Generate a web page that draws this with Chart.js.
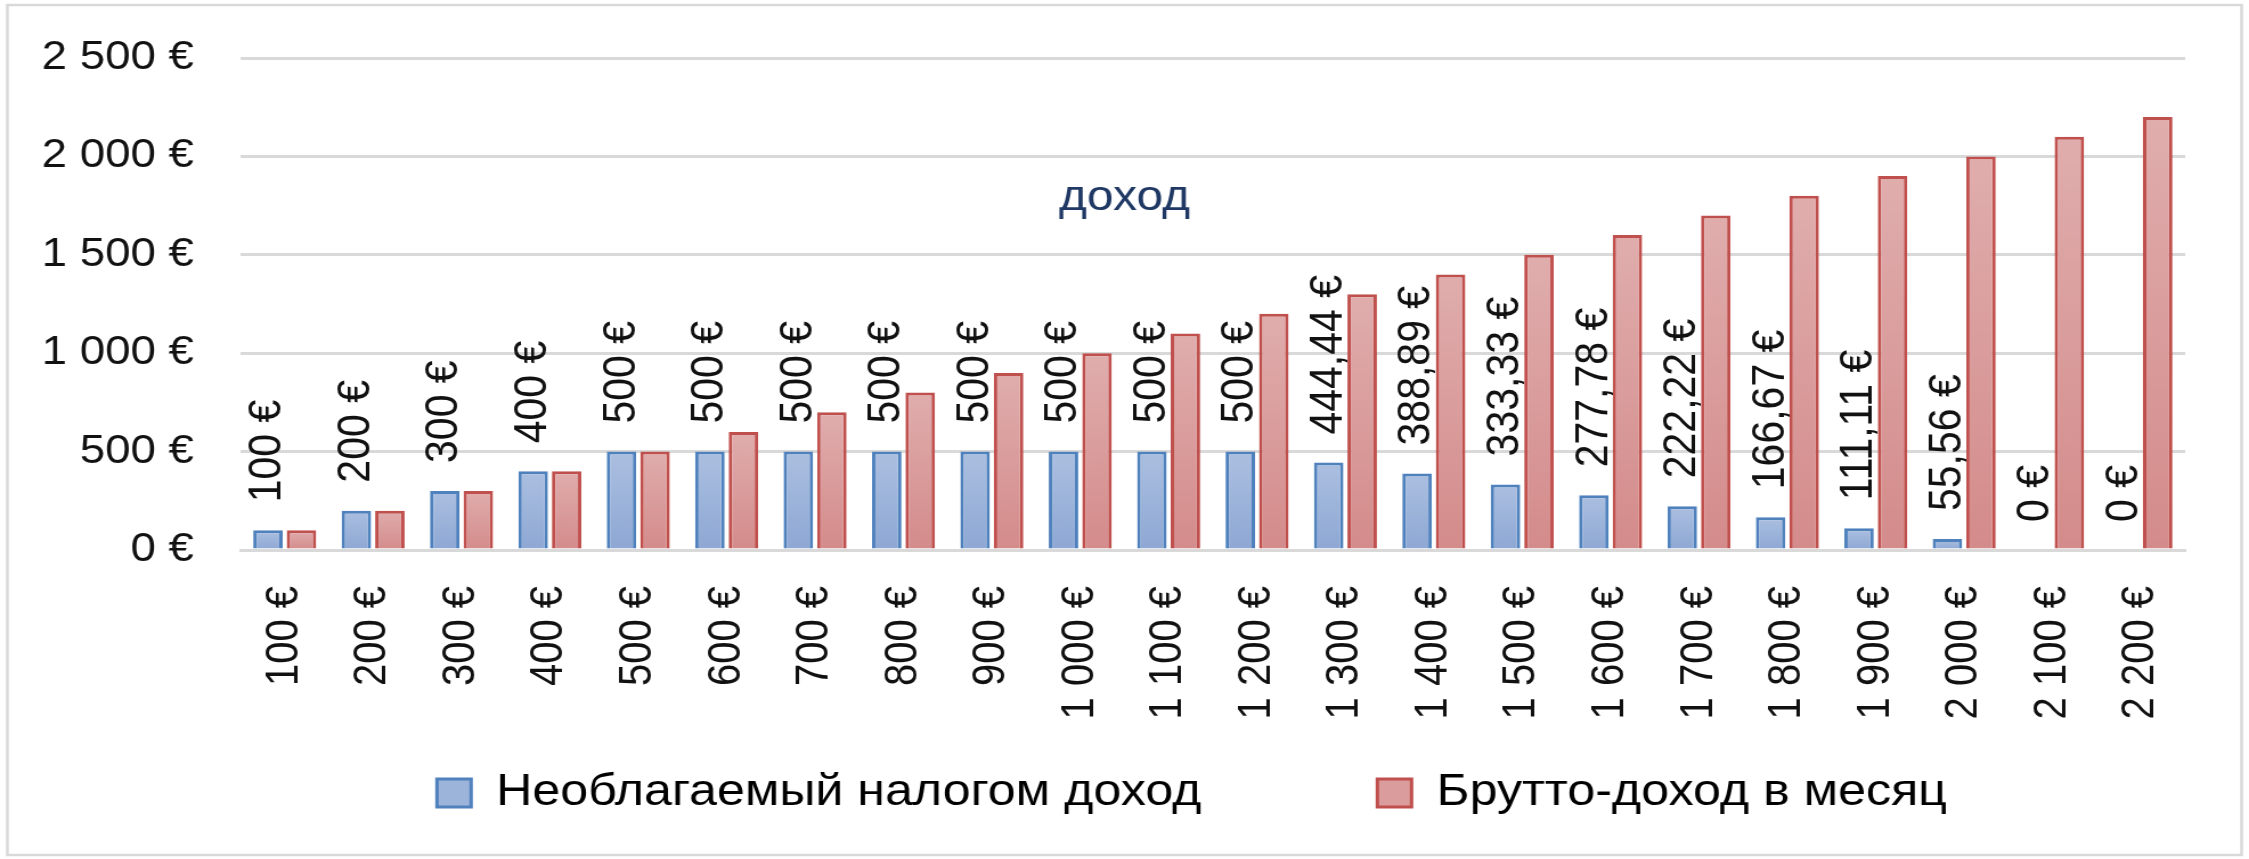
<!DOCTYPE html>
<html lang="ru">
<head>
<meta charset="utf-8">
<title>доход</title>
<script src="https://cdn.jsdelivr.net/npm/chart.js@4.4.1/dist/chart.umd.min.js"></script>
<style>
  html, body { margin: 0; padding: 0; background: #fff; overflow: hidden; }
</style>
</head>
<body>
<canvas id="chartDohod" width="1973" height="859" style="display:block;width:2249px;height:859px"></canvas>
<script>
// Брутто-доход в месяц (подписи категорий)
const categories = ['100 €', '200 €', '300 €', '400 €', '500 €', '600 €', '700 €', '800 €', '900 €', '1 000 €', '1 100 €',
  '1 200 €', '1 300 €', '1 400 €', '1 500 €', '1 600 €', '1 700 €', '1 800 €', '1 900 €', '2 000 €', '2 100 €', '2 200 €'];

const taxFree = [100, 200, 300, 400, 500, 500, 500, 500, 500, 500, 500, 500,
  444.44, 388.89, 333.33, 277.78, 222.22, 166.67, 111.11, 55.56, 0, 0];

const grossMonthly = [100, 200, 300, 400, 500, 600, 700, 800, 900, 1000, 1100,
  1200, 1300, 1400, 1500, 1600, 1700, 1800, 1900, 2000, 2100, 2200];

const yTickLabels = ['0 €', '500 €', '1 000 €', '1 500 €', '2 000 €', '2 500 €'];

const FONT = '"Liberation Sans", Arial, sans-serif';
Chart.defaults.font.family = FONT;
Chart.defaults.color = '#111';

function fmtEuro(v) {
  let [int, frac] = Math.abs(v).toFixed(2).split('.');
  int = int.replace(/\B(?=(\d{3})+(?!\d))/g, ' ');
  return (frac === '00' ? int : int + ',' + frac) + ' €';
}

// градиент сверху вниз для каждого столбика
function barGradient(light, dark) {
  return function(ctx) {
    const chart = ctx.chart;
    if (!chart.chartArea || ctx.raw == null || !chart.scales.y) return dark;
    const top = chart.scales.y.getPixelForValue(ctx.raw);
    const bottom = chart.scales.y.getPixelForValue(0);
    if (bottom - top < 1) return dark;
    const g = chart.ctx.createLinearGradient(0, top, 0, bottom);
    g.addColorStop(0, light);
    g.addColorStop(1, dark);
    return g;
  };
}

const frame = {
  id: 'frame',
  beforeDraw(chart) {
    const c = chart.ctx;
    c.save();
    c.strokeStyle = '#d9d9d9';
    c.lineWidth = 2.5;
    c.strokeRect(6.5, 5, chart.width - 13, chart.height - 9);
    c.restore();
  }
};

const titleInside = {
  id: 'titleInside',
  afterDraw(chart) {
    const c = chart.ctx;
    c.save();
    c.font = '42px ' + FONT;
    c.fillStyle = '#1f3864';
    c.textAlign = 'center';
    c.textBaseline = 'alphabetic';
    c.fillText('доход', chart.width / 2, 210);
    c.restore();
  }
};

const valueLabels = {
  id: 'valueLabels',
  afterDatasetsDraw(chart) {
    const meta = chart.getDatasetMeta(0);
    const c = chart.ctx;
    c.save();
    c.font = '41px ' + FONT;
    c.fillStyle = '#111';
    c.textAlign = 'left';
    c.textBaseline = 'middle';
    meta.data.forEach(function(bar, i) {
      c.save();
      c.translate(bar.x, bar.y - 28);
      c.rotate(-Math.PI / 2);
      c.fillText(fmtEuro(taxFree[i]), 0, 0);
      c.restore();
    });
    c.restore();
  }
};

const ctx = document.getElementById('chartDohod').getContext('2d');
new Chart(ctx, {
  type: 'bar',
  data: {
    labels: categories,
    datasets: [{
      label: 'Необлагаемый налогом доход',
      data: taxFree,
      backgroundColor: barGradient('#abbfe0', '#8ea8d4'),
      borderColor: '#4f81bd',
      borderWidth: 3,
      categoryPercentage: 0.758,
      barPercentage: 0.88
    }, {
      label: 'Брутто-доход в месяц',
      data: grossMonthly,
      backgroundColor: barGradient('#e0adad', '#d48b8b'),
      borderColor: '#c0504d',
      borderWidth: 3,
      categoryPercentage: 0.758,
      barPercentage: 0.88
    }]
  },
  options: {
    responsive: false,
    devicePixelRatio: 1,
    animation: false,
    layout: { padding: { left: 36, right: 56, top: 58, bottom: 34 } },
    scales: {
      x: {
        grid: { display: false },
        border: { color: '#d9d9d9', width: 3 },
        ticks: {
          autoSkip: false,
          maxRotation: 90,
          minRotation: 90,
          padding: 28,
          font: { size: 40 },
          color: '#111'
        },
        afterFit(scale) { scale.height = 201; }
      },
      y: {
        min: 0,
        max: 2500,
        border: { display: false },
        grid: { color: '#d9d9d9', lineWidth: 3, drawTicks: false },
        ticks: {
          stepSize: 500,
          padding: 41,
          font: { size: 40 },
          color: '#111',
          callback: function(v, i) { return yTickLabels[i]; }
        },
        afterFit(scale) {
          scale.width = 175;
          scale.paddingTop = 24;
          scale.paddingBottom = 24;
        }
      }
    },
    plugins: {
      title: { display: false },
      tooltip: { enabled: false },
      legend: {
        position: 'bottom',
        fullSize: false,
        labels: {
          font: { size: 44 },
          color: '#222',
          boxWidth: 30,
          boxHeight: 28,
          padding: 20,
          generateLabels(chart) {
            const fills = ['#9cb3da', '#da9c9c'];
            const tails = [11, 3];
            return chart.data.datasets.map(function(ds, i) {
              return {
                text: ds.label + ' '.repeat(tails[i]),
                fillStyle: fills[i],
                strokeStyle: ds.borderColor,
                lineWidth: 3,
                datasetIndex: i,
                hidden: false
              };
            });
          }
        }
      }
    }
  },
  plugins: [frame, valueLabels, titleInside]
});
</script>
</body>
</html>
